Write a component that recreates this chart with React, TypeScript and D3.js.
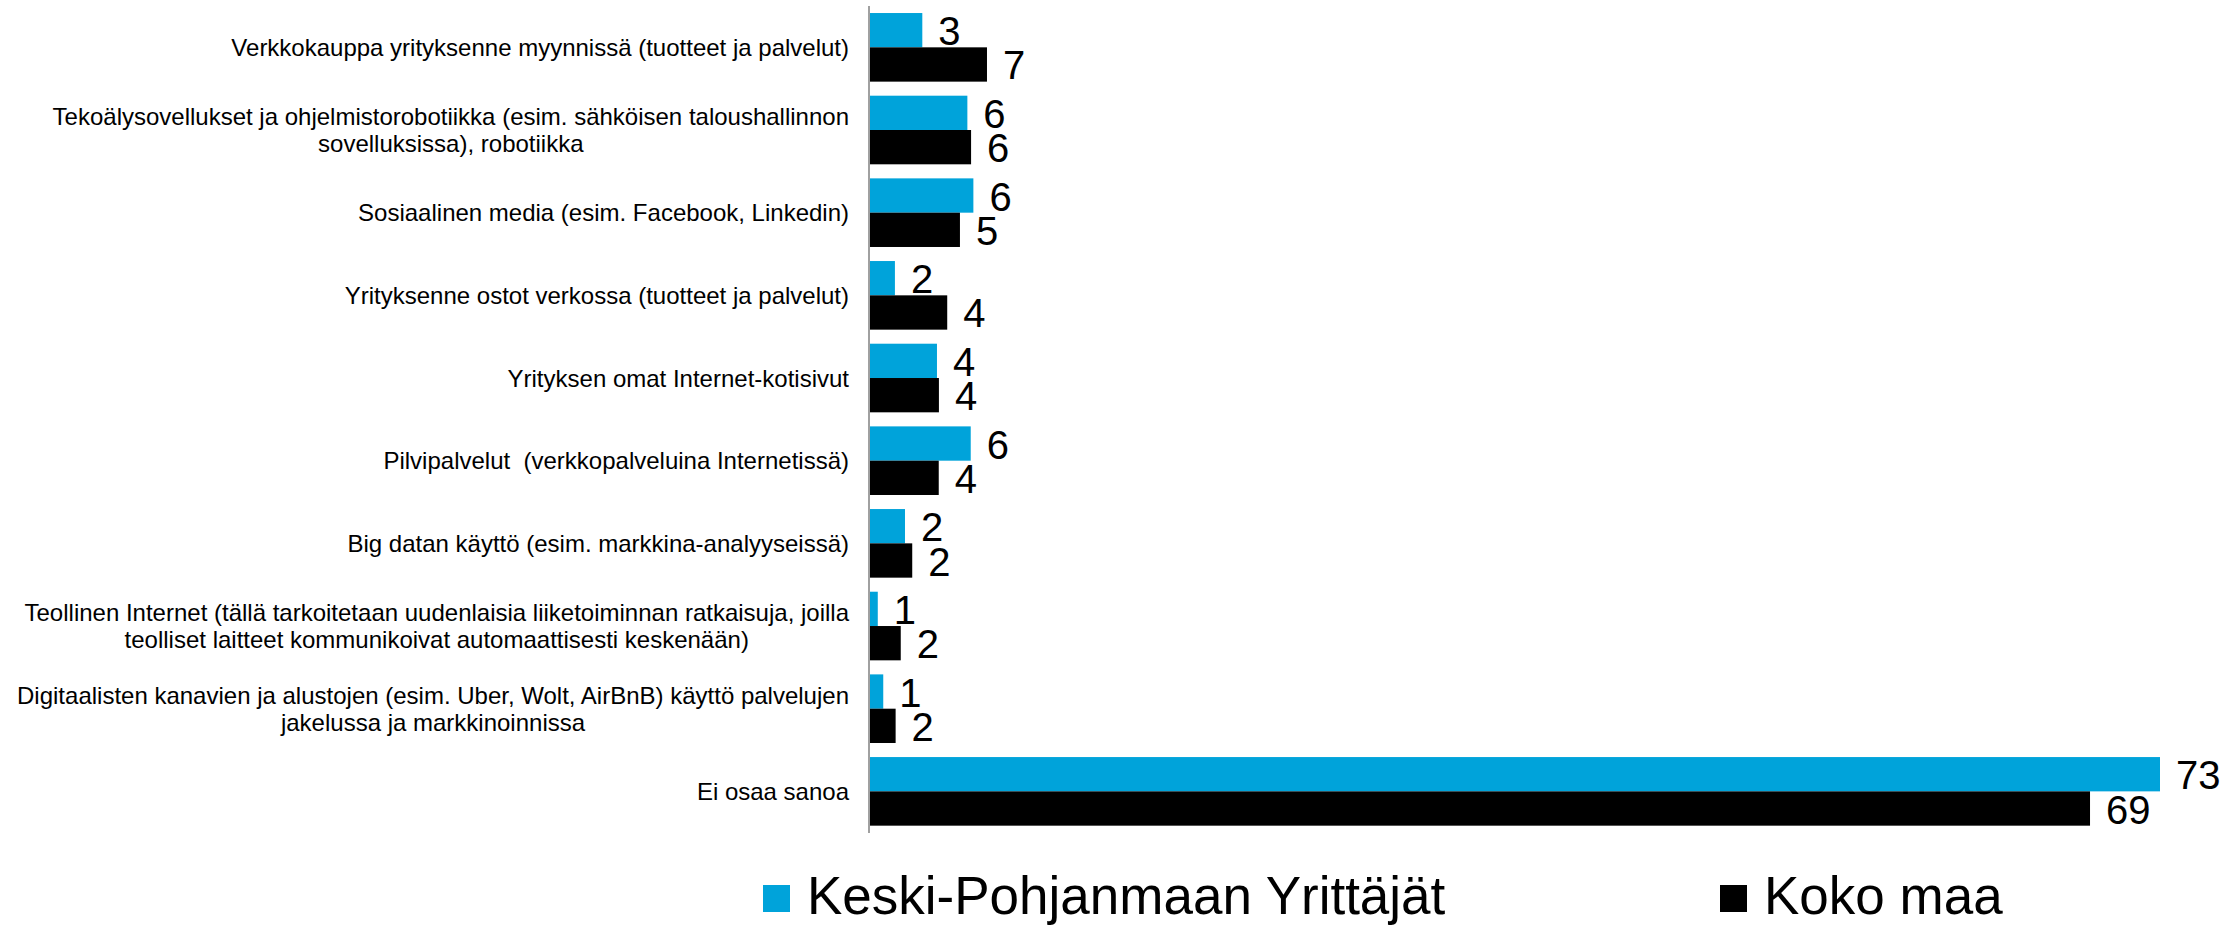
import { useEffect, useRef } from 'react';
import * as d3 from 'd3';

const CATEGORIES = [
  'Verkkokauppa yrityksenne myynnissä (tuotteet ja palvelut)',
  'Tekoälysovellukset ja ohjelmistorobotiikka (esim. sähköisen taloushallinnon\nsovelluksissa), robotiikka',
  'Sosiaalinen media (esim. Facebook, Linkedin)',
  'Yrityksenne ostot verkossa (tuotteet ja palvelut)',
  'Yrityksen omat Internet-kotisivut',
  'Pilvipalvelut  (verkkopalveluina Internetissä)',
  'Big datan käyttö (esim. markkina-analyyseissä)',
  'Teollinen Internet (tällä tarkoitetaan uudenlaisia liiketoiminnan ratkaisuja, joilla\nteolliset laitteet kommunikoivat automaattisesti keskenään)',
  'Digitaalisten kanavien ja alustojen (esim. Uber, Wolt, AirBnB) käyttö palvelujen\njakelussa ja markkinoinnissa',
  'Ei osaa sanoa',
];

// bar lengths
const REGION_VALUES = [2.96, 5.51, 5.85, 1.41, 3.79, 5.7, 1.98, 0.44, 0.75, 73.0];
const COUNTRY_VALUES = [6.62, 5.72, 5.09, 4.37, 3.9, 3.89, 2.39, 1.74, 1.45, 69.04];

// data labels as printed on the chart
const REGION_LABELS = ['3', '6', '6', '2', '4', '6', '2', '1', '1', '73'];
const COUNTRY_LABELS = ['7', '6', '5', '4', '4', '4', '2', '2', '2', '69'];

const SERIES = ['Keski-Pohjanmaan Yrittäjät', 'Koko maa'];
const COLORS = ['#00A3DA', '#000000'];

const W = 2238;
const H = 925;
const FONT = '"Liberation Sans", Arial, sans-serif';

export default function App() {
  const svgRef = useRef<SVGSVGElement>(null);

  useEffect(() => {
    if (!svgRef.current) return;
    const svg = d3.select(svgRef.current);
    svg.selectAll('*').remove();

    const x = d3.scaleLinear().domain([0, 73]).range([870, 2160]);
    const y = d3.scaleBand<number>()
      .domain(d3.range(CATEGORIES.length))
      .range([6, 832.7])
      .paddingInner(0.17)
      .paddingOuter(0.085);
    const sub = d3.scaleBand<number>().domain([0, 1]).range([0, y.bandwidth()]);

    const seriesVals = [REGION_VALUES, COUNTRY_VALUES];
    const seriesLabels = [REGION_LABELS, COUNTRY_LABELS];

    // bars
    seriesVals.forEach((vals, s) => {
      svg.append('g')
        .selectAll('rect')
        .data(vals)
        .join('rect')
        .attr('x', x(0))
        .attr('y', (_, i) => (y(i) ?? 0) + (sub(s) ?? 0))
        .attr('width', d => x(d) - x(0))
        .attr('height', sub.bandwidth())
        .attr('fill', COLORS[s]);
    });

    // value labels
    seriesVals.forEach((vals, s) => {
      svg.append('g')
        .selectAll('text')
        .data(vals)
        .join('text')
        .attr('x', d => x(d) + 16)
        .attr('y', (_, i) => (y(i) ?? 0) + (sub(s) ?? 0) + sub.bandwidth() / 2 + 1)
        .attr('dominant-baseline', 'central')
        .attr('font-family', FONT)
        .attr('font-size', 40)
        .attr('fill', '#000')
        .text((_, i) => seriesLabels[s][i]);
    });

    // axis line
    svg.append('line')
      .attr('x1', 869).attr('x2', 869)
      .attr('y1', 6).attr('y2', 833)
      .attr('stroke', '#A0A0A0')
      .attr('stroke-width', 2);

    // category labels: block right-aligned, lines centred within the block
    const right = 849;
    const lineH = 27;
    CATEGORIES.forEach((cat, i) => {
      const lines = cat.split('\n');
      const g = svg.append('g');
      const texts = lines.map((ln, k) =>
        g.append('text')
          .attr('font-family', FONT)
          .attr('font-size', 24)
          .attr('fill', '#000')
          .style('white-space', 'pre')
          .attr('dominant-baseline', 'central')
          .attr('y', (y(i) ?? 0) + y.bandwidth() / 2 + (k - (lines.length - 1) / 2) * lineH)
          .text(ln)
      );
      const widths = texts.map(t => (t.node() as SVGTextElement).getComputedTextLength());
      const maxW = d3.max(widths) ?? 0;
      texts.forEach(t => {
        t.attr('text-anchor', 'middle').attr('x', right - maxW / 2);
      });
    });

    // legend
    const legendX = [763, 1720];
    SERIES.forEach((name, s) => {
      svg.append('rect')
        .attr('x', legendX[s]).attr('y', 885)
        .attr('width', 27).attr('height', 27)
        .attr('fill', COLORS[s]);
      svg.append('text')
        .attr('x', legendX[s] + 44)
        .attr('y', 914)
        .attr('font-family', FONT)
        .attr('font-size', 53)
        .attr('fill', '#000')
        .text(name);
    });
  }, []);

  return (
    <div style={{ position: 'fixed', left: 0, top: 0, width: W, height: H, background: '#fff' }}>
      <svg ref={svgRef} width={W} height={H} />
    </div>
  );
}
